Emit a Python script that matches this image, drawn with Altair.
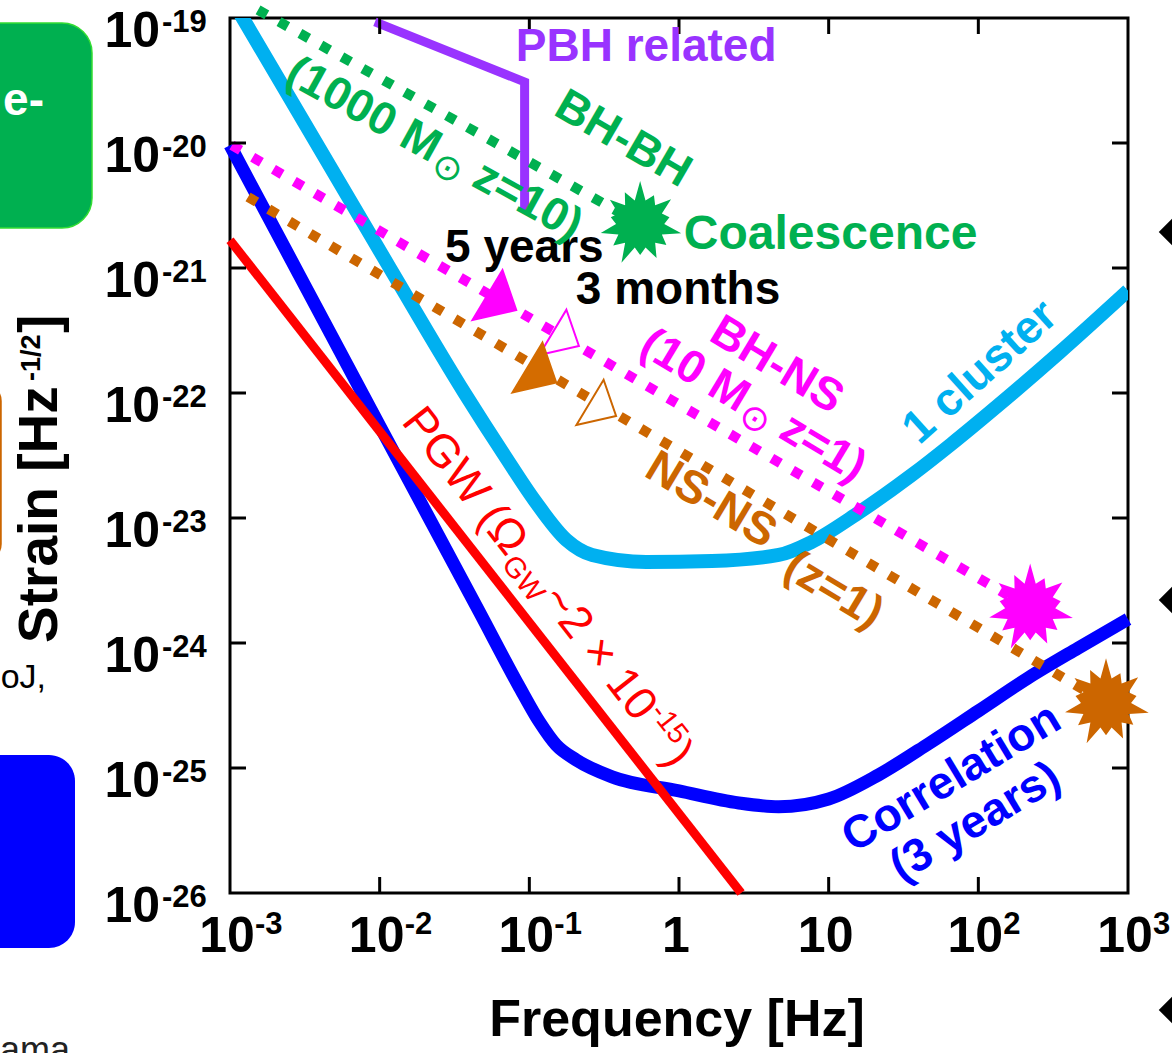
import math
import altair as alt
import pandas as pd

FONT = "Liberation Sans, Arial, DejaVu Sans, sans-serif"
SYM_FONT = "DejaVu Sans, Liberation Sans, sans-serif"

# ---------------- data ----------------
# "1 cluster" sensitivity (light blue)
cluster_f = [1.13e-3, 1.17e-2, 3.69e-2, 6.8e-2, 0.108, 0.177, 0.263, 0.603, 1.66,
             4.64, 7.7, 15.1, 35.8, 66.0, 138.0, 347.0, 1000.0]
cluster_h = [1.16e-19, 1.0e-21, 1.0e-22, 3.19e-23, 1.39e-23, 6.67e-24, 5.06e-24, 4.45e-24,
             4.53e-24, 5.06e-24, 6.43e-24, 1.06e-23, 2.2e-23, 3.9e-23, 8.1e-23, 2.1e-22, 6.6e-22]

# "Correlation (3 years)" sensitivity (blue)
corr_f = [1.0e-3, 2.93e-3, 1.05e-2, 4.64e-2, 8.58e-2, 0.117, 0.151, 0.206, 0.357, 1.0,
          2.51, 4.64, 10.0, 21.5, 46.4, 100.0, 215.0, 464.0, 1000.0]
corr_h = [9.6e-21, 8.6e-22, 4.9e-23, 1.77e-24, 4.45e-25, 2.33e-25, 1.53e-25, 1.16e-25,
          8.5e-26, 6.55e-26, 5.25e-26, 4.9e-26, 5.65e-26, 8.8e-26, 1.56e-25, 2.86e-25,
          5.25e-25, 9.1e-25, 1.55e-24]

# primordial GW (red)
pgw_f = [1.0e-3, 2.6]
pgw_h = [1.67e-21, 1.0e-26]

# PBH related (purple)
pbh_f = [9.3e-3, 0.093, 0.093]
pbh_h = [9.3e-20, 3.08e-20, 2.8e-21]

# binary tracks (dotted) ending at the coalescence stars
bhbh_f = [1.54e-3, 0.55]
bhbh_h = [1.16e-19, 2.25e-21]
bhns_f = [1.03e-3, 222.0]
bhns_h = [9.6e-21, 1.9e-24]
nsns_f = [1.32e-3, 713.0]
nsns_h = [3.7e-21, 3.31e-25]

# triangles: 5 years (filled) / 3 months (open) before coalescence
tri_f = [0.0584, 0.158, 0.108, 0.28]
tri_h = [6.31e-22, 3.16e-22, 1.66e-22, 8.7e-23]

# ticks
xtick_vals = [1e-3, 1e-2, 1e-1, 1.0, 10.0, 100.0, 1000.0]
xtick_base = ["10", "10", "10", "1", "10", "10", "10"]
xtick_exp = ["-3", "-2", "-1", "", "", "2", "3"]
ytick_vals = [1e-19, 1e-20, 1e-21, 1e-22, 1e-23, 1e-24, 1e-25, 1e-26]
ytick_exp = ["-19", "-20", "-21", "-22", "-23", "-24", "-25", "-26"]

# annotation anchors (frequency, strain)
label_text = ["PBH related", "BH-BH", "Coalescence", "5 years", "3 months", "BH-NS",
              "1 cluster", "NS-NS", "(z=1)", "Correlation", "(3 years)"]
label_f = [0.603, 0.423, 10.3, 0.0926, 0.985, 4.5, 103.0, 1.635, 10.8, 66.1, 95.5]
label_h = [5.86e-20, 1.076e-20, 1.84e-21, 1.445e-21, 6.67e-22, 1.675e-22, 1.47e-22,
           1.39e-23, 2.65e-24, 8.32e-26, 3.7e-26]

# ---------------- styles ----------------
C_CYAN = "#00B0F0"
C_BLUE = "#0000FF"
C_RED = "#FF0000"
C_PURPLE = "#9933FF"
C_GREEN = "#00B050"
C_MAG = "#FF00FF"
C_ORANGE = "#CC6600"

xs = alt.Scale(type="log", domain=[1e-3, 1e3], nice=False)
ys = alt.Scale(type="log", domain=[1e-26, 1e-19], nice=False)


def enc_xy():
    return dict(x=alt.X("f:Q", scale=xs, axis=None), y=alt.Y("h:Q", scale=ys, axis=None))


layers = []


def add_line(fs, hs, color, width, dash=None, clip=False, interp="linear"):
    df = pd.DataFrame({"f": fs, "h": hs, "i": list(range(len(fs)))})
    kw = dict(color=color, strokeWidth=width, clip=clip, interpolate=interp,
              strokeCap="butt", strokeJoin="miter")
    if dash is not None:
        kw["strokeDash"] = dash
    layers.append(alt.Chart(df).mark_line(**kw).encode(order="i:Q", **enc_xy()))


def add_text(f, h, text, color, size, angle=0, weight="bold", dx=0, dy=0,
             align="center", baseline="middle", font=FONT):
    df = pd.DataFrame({"f": [f], "h": [h], "t": [text]})
    layers.append(alt.Chart(df).mark_text(
        color=color, fontSize=size, angle=angle % 360, fontWeight=weight, dx=dx, dy=dy,
        align=align, baseline=baseline, font=font).encode(text="t:N", **enc_xy()))


def add_ptext(px, py, text, color, size, angle=0, weight="bold", dx=0, dy=0,
              align="center", baseline="alphabetic", font=FONT):
    df = pd.DataFrame({"t": [text]})
    layers.append(alt.Chart(df).mark_text(
        color=color, fontSize=size, angle=angle % 360, fontWeight=weight, dx=dx, dy=dy,
        align=align, baseline=baseline, font=font).encode(
        x=alt.value(px), y=alt.value(py), text="t:N"))


def star_path(radii, inner=0.56):
    n = len(radii)
    pts = []
    for i, r in enumerate(radii):
        a = -math.pi / 2 + 2 * math.pi * i / n
        pts.append((r * math.cos(a), r * math.sin(a)))
        b = a + math.pi / n
        pts.append((inner * math.cos(b), inner * math.sin(b)))
    return "M" + "L".join(f"{x:.3f},{y:.3f}" for x, y in pts) + "Z"


STAR = star_path([1.0, 0.74, 0.92, 0.7, 0.98, 0.78, 0.88, 0.72, 1.0, 0.8, 0.94, 0.7, 0.9, 0.82])
TRI = "M0.3,-0.85L0.81,0.63L-0.81,1Z"

# ---------------- decorations of the cropped neighbouring panels ----------------
base = alt.Chart(pd.DataFrame({"a": [0]}))
layers.append(base.mark_rect(cornerRadius=30, fill="#00B050", stroke="#33DD33", strokeWidth=1.5)
              .encode(x=alt.value(-300), x2=alt.value(-138), y=alt.value(5), y2=alt.value(210)))
layers.append(base.mark_rect(cornerRadius=16, fill="white", fillOpacity=0, stroke="#CC6600", strokeWidth=2.5)
              .encode(x=alt.value(-320), x2=alt.value(-229.5), y=alt.value(367), y2=alt.value(542)))
layers.append(base.mark_rect(cornerRadius=26, fill="#0000FF")
              .encode(x=alt.value(-300), x2=alt.value(-155), y=alt.value(737), y2=alt.value(930)))
add_ptext(-186, 97, "e-", "white", 46, align="right")
add_ptext(-184, 670, "oJ,", "black", 34, weight="normal", align="right")
add_ptext(-160, 1044, "ama", "#222222", 36, weight="normal", align="right")
dia = pd.DataFrame({"px": [942, 942, 942], "py": [214, 582, 992]})
layers.append(alt.Chart(dia).mark_point(shape="diamond", filled=True, color="black", size=700, opacity=1)
              .encode(x=alt.X("px:Q", scale=None), y=alt.Y("py:Q", scale=None)))

# ---------------- curves ----------------
add_line(cluster_f, cluster_h, C_CYAN, 14, clip=True, interp="monotone")
add_line(corr_f, corr_h, C_BLUE, 13, interp="monotone")
add_line(pgw_f, pgw_h, C_RED, 9)
add_line(pbh_f, pbh_h, C_PURPLE, 9)
add_line(bhbh_f, bhbh_h, C_GREEN, 10, dash=[10, 14])
add_line(bhns_f, bhns_h, C_MAG, 10, dash=[10, 14])
add_line(nsns_f, nsns_h, C_ORANGE, 10, dash=[10, 14])

# triangles
tri_fill = ["#FF00FF", "white", "#D46C00", "white"]
tri_stroke = ["#FF00FF", "#FF00FF", "#D46C00", "#CC6600"]
tri_size = [2916, 2400, 2916, 2400]
for i in range(4):
    df = pd.DataFrame({"f": [tri_f[i]], "h": [tri_h[i]]})
    layers.append(alt.Chart(df).mark_point(shape=TRI, filled=True, fill=tri_fill[i], stroke=tri_stroke[i],
                                           strokeWidth=2, size=tri_size[i], opacity=1).encode(**enc_xy()))

# coalescence stars (at the end of each binary track)
for fs, hs, col, sz in [(bhbh_f, bhbh_h, C_GREEN, 7400), (bhns_f, bhns_h, C_MAG, 8000),
                        (nsns_f, nsns_h, C_ORANGE, 8000)]:
    df = pd.DataFrame({"f": [fs[-1]], "h": [hs[-1]]})
    layers.append(alt.Chart(df).mark_point(shape=STAR, filled=True, color=col, size=sz, opacity=1,
                                           strokeWidth=0).encode(**enc_xy()))

# ---------------- frame ticks (inward) ----------------
inner_x = pd.DataFrame({"f": xtick_vals[1:-1]})
inner_y = pd.DataFrame({"h": ytick_vals[1:-1]})
for y1, y2 in [(875, 859), (0, 16)]:
    layers.append(alt.Chart(inner_x).mark_rule(color="black", strokeWidth=3).encode(
        x=alt.X("f:Q", scale=xs, axis=None), y=alt.value(y1), y2=alt.value(y2)))
for x1, x2 in [(0, 16), (898, 882)]:
    layers.append(alt.Chart(inner_y).mark_rule(color="black", strokeWidth=3).encode(
        y=alt.Y("h:Q", scale=ys, axis=None), x=alt.value(x1), x2=alt.value(x2)))

# ---------------- tick labels ----------------
xt = pd.DataFrame({"f": xtick_vals, "b": xtick_base, "e": xtick_exp})
layers.append(alt.Chart(xt).mark_text(fontSize=50, fontWeight="bold", font=FONT, align="center",
                                      baseline="alphabetic", dx=-3, color="black").encode(
    x=alt.X("f:Q", scale=xs, axis=None), y=alt.value(934), text="b:N"))
layers.append(alt.Chart(xt).mark_text(fontSize=31, fontWeight="bold", font=FONT, align="left",
                                      baseline="alphabetic", dx=25, color="black").encode(
    x=alt.X("f:Q", scale=xs, axis=None), y=alt.value(916), text="e:N"))
yt = pd.DataFrame({"h": ytick_vals, "b": ["10"] * len(ytick_vals), "e": ytick_exp})
layers.append(alt.Chart(yt).mark_text(fontSize=50, fontWeight="bold", font=FONT, align="right",
                                      baseline="alphabetic", dy=29, color="black").encode(
    y=alt.Y("h:Q", scale=ys, axis=None), x=alt.value(-70), text="b:N"))
layers.append(alt.Chart(yt).mark_text(fontSize=31, fontWeight="bold", font=FONT, align="left",
                                      baseline="alphabetic", dy=14, color="black").encode(
    y=alt.Y("h:Q", scale=ys, axis=None), x=alt.value(-68), text="e:N"))

# axis titles
add_ptext(447, 1018, "Frequency [Hz]", "black", 52)
add_ptext(-173, 625, "Strain [Hz", "black", 55, angle=270, align="left")
add_ptext(-173, 625, "-1/2", "black", 27, angle=270, align="left", dx=262, dy=-17)
add_ptext(-173, 625, "]", "black", 55, angle=270, align="left", dx=310)

# ---------------- annotations ----------------
label_style = {
    "PBH related": (C_PURPLE, 46, 0),
    "BH-BH": (C_GREEN, 46, 30),
    "Coalescence": (C_GREEN, 48, 0),
    "5 years": ("black", 46, 0),
    "3 months": ("black", 46, 0),
    "BH-NS": (C_MAG, 46, 31),
    "1 cluster": (C_CYAN, 46, -42),
    "NS-NS": (C_ORANGE, 46, 31),
    "(z=1)": (C_ORANGE, 46, 31),
    "Correlation": (C_BLUE, 46, -31),
    "(3 years)": (C_BLUE, 46, -31),
}
for t, f, h in zip(label_text, label_f, label_h):
    col, sz, ang = label_style[t]
    add_text(f, h, t, col, sz, angle=ang)

# composite labels with solar-mass symbol
# (1000 M_sun z=10)
f0, h0, ang = 0.02326, 9.12e-21, 29
add_text(f0, h0, "(1000 M", C_GREEN, 46, angle=ang, dx=-165, dy=15, align="left", baseline="alphabetic")
add_text(f0, h0, "\u2299", C_GREEN, 36, angle=ang, weight="normal", dx=6, dy=23, align="left",
         baseline="alphabetic", font=SYM_FONT)
add_text(f0, h0, "z=10)", C_GREEN, 46, angle=ang, dx=49, dy=15, align="left", baseline="alphabetic")
# (10 M_sun z=1)
f0, h0, ang = 3.16, 8.02e-23, 31
add_text(f0, h0, "(10 M", C_MAG, 46, angle=ang, dx=-127, dy=15, align="left", baseline="alphabetic")
add_text(f0, h0, "\u2299", C_MAG, 36, angle=ang, weight="normal", dx=-7, dy=23, align="left",
         baseline="alphabetic", font=SYM_FONT)
add_text(f0, h0, "z=1)", C_MAG, 46, angle=ang, dx=36, dy=15, align="left", baseline="alphabetic")
# PGW (Omega_GW ~ 2 x 10^-15)
f0, h0, ang = 0.0138, 5.86e-23, 52
add_text(f0, h0, "PGW (\u03a9", C_RED, 46, angle=ang, weight="normal", dx=0, align="left", baseline="alphabetic")
add_text(f0, h0, "GW", C_RED, 29, angle=ang, weight="normal", dx=174, dy=9, align="left", baseline="alphabetic")
add_text(f0, h0, "~2 \u00d7 10", C_RED, 46, angle=ang, weight="normal", dx=226, align="left", baseline="alphabetic")
add_text(f0, h0, "-15", C_RED, 29, angle=ang, weight="normal", dx=382, dy=-17, align="left", baseline="alphabetic")
add_text(f0, h0, ")", C_RED, 46, angle=ang, weight="normal", dx=426, align="left", baseline="alphabetic")

chart = alt.layer(*layers).properties(
    width=898, height=875,
    padding={"left": 230, "top": 18, "right": 44, "bottom": 160},
    autosize=alt.AutoSizeParams(type="none"),
    background="white",
).configure_view(stroke="black", strokeWidth=3)

chart.save("out.html", embed_options={"renderer": "svg", "actions": False})
